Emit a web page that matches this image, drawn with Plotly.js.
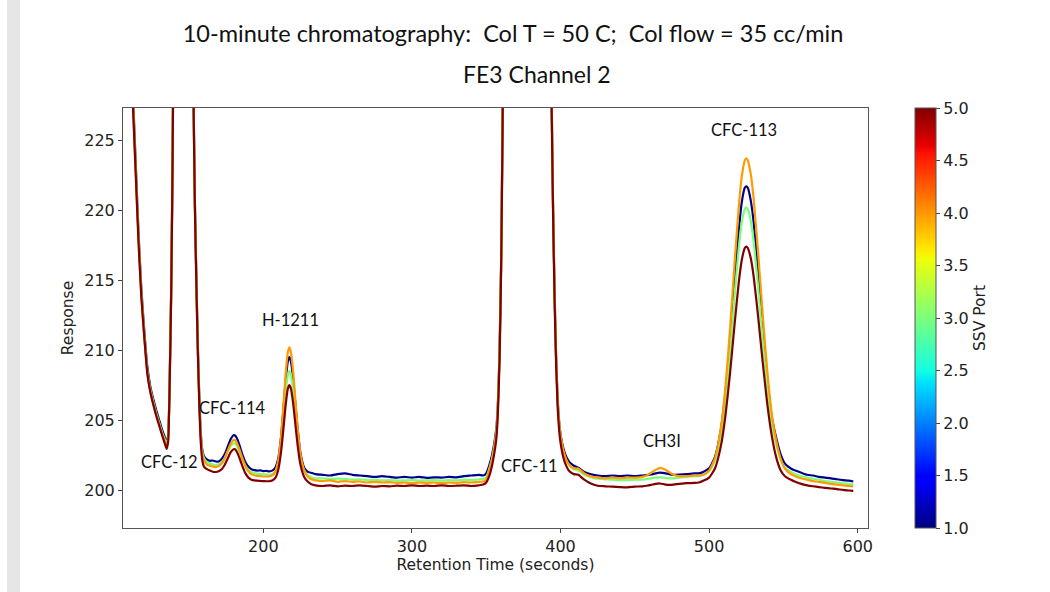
<!DOCTYPE html>
<html>
<head>
<meta charset="utf-8">
<script src="https://cdn.plot.ly/plotly-3.0.1.min.js"></script>
<style>html,body{margin:0;padding:0;background:#fff;}#chart{width:1050px;height:592px;}</style>
</head>
<body>
<div id="chart"></div>
<script>
// ---------------- DATA ----------------
const retentionTime = [
  100,105,108,110,112,114,116,118,120,122,124,126,128,130,132,134,135,136,137,138,139,140,142,146,150,152,153,154,155,156,157,158,159,160,162,
  164,166,168,170,172,174,176,178,180,181,182,184,186,188,190,192,194,196,198,200,202,204,
  206,208,210,212,213.5,215,216.5,217.5,218.5,220,221.5,223,225,227.5,230,
  232,235,240,245,250,255,260,265,270,275,280,285,290,295,300,305,310,315,320,325,330,335,340,345,348,350,
  352,354,356,357,358,359,360,361,362,365,370,377,385,390,393,394,395,396,397,398,399,400,402,404,406,409,
  412,416,420,425,430,435,440,445,450,455,458,461,464,467,470,473,476,480,485,490,493,
  496,500,504,508,511,514,517,520,522,524,525,526,528,530,533,536,539,542,545,548,551,555,
  558,562,566,570,574,578,582,586,590,594,597
];

const ssvPorts = [1, 3, 4, 5];

const responsePort1 = [
  292,256,241,234,229,223.8,218.5,214.3,211.3,208.8,207.4,206.5,205.7,205.0,204.3,203.7,203.4,203.9,207.9,214.2,224,240,300,420,330,255,229,220.5,215,210.2,206.5,204.0,202.85,202.45,202.2,
  202.1,202.12,202.05,202.05,202.23,202.56,203.09,203.64,203.93,203.91,203.76,203.21,202.53,202.0,201.67,201.5,201.43,201.4,201.42,201.36,201.38,201.35,
  201.4,201.6,202.23,203.85,205.72,207.75,209.19,209.5,209.25,208.05,206.28,204.49,202.66,201.61,201.31,
  201.25,201.15,201.1,201.05,201.15,201.2,201.1,201.05,201.0,200.95,201.0,200.95,200.9,200.95,200.9,200.95,200.88,200.92,200.9,200.95,200.92,201.0,201.05,201.1,201.05,201.2,
  201.75,202.55,203.75,204.65,206.6,210.1,216.1,226.2,240,300,500,700,550,320,240,228.2,220.2,214.2,209.7,206.7,205.0,204.0,202.95,202.35,202.0,201.75,
  201.6,201.3,201.15,201.05,201.0,201.05,201.0,201.05,201.0,201.05,201.08,201.12,201.2,201.25,201.22,201.15,201.1,201.12,201.15,201.2,201.2,
  201.3,201.56,202.4,204.4,207.0,210.6,214.8,218.6,220.6,221.6,221.7,221.6,220.7,219.1,215.6,211.7,208.1,205.3,203.8,202.6,201.9,201.55,
  201.4,201.25,201.1,201.05,200.95,200.9,200.85,200.78,200.72,200.68,200.62
];

const responsePort3 = [
  291,255.5,240.5,233.5,228.6,223.4,218.2,214.0,211.0,208.5,207.2,206.3,205.5,204.8,204.1,203.55,203.3,203.8,207.8,214.1,224,240,300,420,330,255,228.8,220.3,214.8,210.0,206.3,203.8,202.7,202.3,202.0,
  201.9,201.85,201.8,201.85,202.0,202.3,202.75,203.15,203.35,203.33,203.2,202.75,202.2,201.75,201.45,201.3,201.22,201.18,201.15,201.13,201.12,201.1,
  201.14,201.33,201.94,203.4,205.09,206.92,208.22,208.5,208.27,207.19,205.59,203.98,202.37,201.43,201.06,
  200.95,200.85,200.85,200.8,200.82,200.8,200.75,200.78,200.72,200.75,200.7,200.72,200.68,200.7,200.72,200.68,200.7,200.72,200.68,200.72,200.7,200.75,200.72,200.78,200.8,200.9,
  201.5,202.3,203.5,204.4,206.4,209.9,215.9,226,240,300,500,700,550,320,240,228,220,214,209.5,206.5,204.8,203.8,202.7,202.1,201.75,201.5,
  201.4,201.1,200.95,200.82,200.78,200.75,200.72,200.72,200.75,200.75,200.8,200.85,200.9,200.92,200.88,200.85,200.85,200.9,200.95,201.0,201.0,
  201.08,201.34,202.11,203.98,206.41,209.79,213.71,217.34,219.12,220.08,220.2,220.08,219.26,217.72,214.46,210.83,207.49,204.88,203.3,202.2,201.6,201.3,
  201.15,201.0,200.9,200.82,200.75,200.65,200.6,200.55,200.5,200.45,200.42
];

const responsePort4 = [
  291,255.5,240.5,233.5,228.5,223.3,218.1,213.9,210.9,208.4,207.1,206.2,205.4,204.7,204.0,203.45,203.2,203.7,207.7,214,224,240,300,420,330,255,228.7,220.2,214.7,209.9,206.2,203.7,202.6,202.15,201.85,
  201.75,201.7,201.65,201.72,201.9,202.25,202.8,203.3,203.58,203.57,203.42,202.9,202.25,201.7,201.35,201.15,201.07,201.02,201.0,200.98,200.98,200.98,
  201.06,201.29,202.05,203.86,205.96,208.23,209.85,210.2,209.91,208.57,206.58,204.58,202.58,201.4,200.97,
  200.8,200.7,200.65,200.7,200.6,200.65,200.6,200.62,200.55,200.6,200.55,200.58,200.52,200.55,200.5,200.55,200.52,200.55,200.5,200.55,200.52,200.58,200.55,200.6,200.62,200.75,
  201.4,202.2,203.4,204.3,206.3,209.8,215.8,225.9,240,300,500,700,550,320,240,228.1,220.1,214.1,209.6,206.6,204.9,203.9,202.8,202.15,201.8,201.55,
  201.55,201.2,201.0,200.9,200.85,200.9,200.85,200.9,200.9,200.95,201.05,201.25,201.45,201.6,201.5,201.3,201.1,201.0,201.0,201.05,201.05,
  201.1,201.4,202.32,204.52,207.4,211.4,216.03,220.32,222.43,223.56,223.7,223.56,222.59,220.77,216.91,212.62,208.67,205.59,203.6,202.3,201.55,201.15,
  201.0,200.85,200.75,200.65,200.6,200.52,200.45,200.4,200.35,200.3,200.28
];

const responsePort5 = [
  290,255,240,233,228.2,223,217.8,213.7,210.8,208.3,207.0,206.1,205.3,204.6,203.9,203.25,202.95,203.5,207.5,213.8,223.8,240,300,420,330,255,228.5,220.0,214.5,209.6,205.9,203.3,202.1,201.7,201.5,
  201.4,201.32,201.3,201.35,201.5,201.8,202.25,202.7,202.93,202.92,202.78,202.3,201.7,201.2,200.9,200.75,200.7,200.68,200.66,200.65,200.64,200.64,
  200.69,200.86,201.43,202.78,204.34,206.03,207.24,207.5,207.29,206.29,204.81,203.31,201.83,200.95,200.6,
  200.45,200.35,200.3,200.35,200.28,200.32,200.3,200.35,200.3,200.25,200.3,200.28,200.32,200.3,200.35,200.3,200.33,200.3,200.35,200.3,200.32,200.35,200.3,200.35,200.4,200.55,
  201.0,201.8,203.0,203.9,205.9,209.4,215.5,225.6,240,300,500,700,550,320,240,227.6,219.6,213.6,209.1,206.1,204.4,203.4,202.3,201.7,201.35,201.15,
  201.1,200.75,200.5,200.32,200.28,200.25,200.22,200.2,200.25,200.28,200.32,200.38,200.45,200.48,200.42,200.38,200.4,200.45,200.5,200.52,200.55,
  200.67,200.9,201.57,203.2,205.34,208.29,211.72,214.9,216.46,217.3,217.4,217.3,216.58,215.23,212.38,209.2,206.28,203.99,202.4,201.45,201.0,200.75,
  200.6,200.45,200.35,200.28,200.22,200.17,200.12,200.08,200.02,199.98,199.95
];

const peakNames = ["CFC-12", "CFC-114", "H-1211", "CFC-11", "CH3I", "CFC-113"];

const colorbarTicks = [1.0, 1.5, 2.0, 2.5, 3.0, 3.5, 4.0, 4.5, 5.0];

// ---------------- STYLE ----------------
const jetScale = [
  [0.0, '#000080'], [0.11, '#0000ff'], [0.125, '#0000ff'], [0.34, '#00dbff'],
  [0.35, '#00e5f7'], [0.375, '#14ffe2'], [0.64, '#eeff08'], [0.65, '#f7f500'],
  [0.66, '#ffec00'], [0.89, '#ff1300'], [0.91, '#e80000'], [1.0, '#800000']
];
const portColors = { 1: '#00008a', 3: '#7bff7b', 4: '#ff9a00', 5: '#800000' };
const labelPos = [
  [137.2, 202.0], [179.6, 205.87], [218.0, 212.16], [378.8, 201.73], [468.3, 203.51], [523.5, 225.73]
];
const tickFont = { family: 'DejaVu Sans', size: 16, color: '#222' };
const labelFont = { family: 'Lato', size: 16.5, color: '#111' };

const seriesByPort = { 1: responsePort1, 3: responsePort3, 4: responsePort4, 5: responsePort5 };

const traces = ssvPorts.map(p => ({
  type: 'scatter', mode: 'lines',
  x: retentionTime, y: seriesByPort[p],
  name: 'SSV Port ' + p,
  line: { color: portColors[p], width: 2.2, shape: 'spline', smoothing: 0.5 },
  showlegend: false, hoverinfo: 'x+y+name'
}));

// colorbar carrier (invisible markers, outside the axis range)
traces.push({
  type: 'scatter', mode: 'markers', x: [0, 0], y: [0, 0],
  hoverinfo: 'skip', showlegend: false,
  marker: {
    color: [ssvPorts[0], ssvPorts[ssvPorts.length - 1]], cmin: 1, cmax: 5,
    colorscale: jetScale, opacity: 0, size: 1, showscale: true,
    colorbar: {
      x: 1.063, xanchor: 'left', y: 0.5, yanchor: 'middle',
      len: 1, lenmode: 'fraction', thickness: 21, thicknessmode: 'pixels',
      xpad: 0, ypad: 0, outlinewidth: 1, outlinecolor: '#555',
      tickmode: 'array', tickvals: colorbarTicks,
      ticktext: colorbarTicks.map(v => v.toFixed(1)),
      ticks: 'outside', ticklen: 4, tickcolor: '#444', tickfont: tickFont,
      title: { text: 'SSV Port', side: 'right', font: { family: 'DejaVu Sans', size: 15.5, color: '#222' } }
    }
  }
});

const annotations = peakNames.map((n, i) => ({
  x: labelPos[i][0], y: labelPos[i][1], xref: 'x', yref: 'y',
  text: n, showarrow: false, font: labelFont, xanchor: 'center', yanchor: 'middle'
}));
annotations.push({
  x: 0.556, y: 1.081, xref: 'paper', yref: 'paper', text: 'FE3 Channel 2',
  showarrow: false, font: { family: 'Lato', size: 23, color: '#111' }, xanchor: 'center', yanchor: 'middle'
});

const layout = {
  width: 1050, height: 592,
  margin: { l: 123, r: 182, t: 108, b: 64 },
  paper_bgcolor: '#fff', plot_bgcolor: '#fff',
  title: {
    text: '10-minute chromatography:\u00a0\u00a0Col T = 50 C;\u00a0\u00a0Col flow = 35 cc/min',
    x: 513 / 1050, xref: 'container', xanchor: 'center',
    y: 1 - 34 / 592, yref: 'container', yanchor: 'middle',
    font: { family: 'Lato', size: 23.5, color: '#111' }
  },
  xaxis: {
    range: [105.6, 606.9], tickmode: 'linear', tick0: 0, dtick: 100,
    showgrid: false, zeroline: false, showline: true, mirror: true,
    linecolor: '#555', linewidth: 1, ticks: 'outside', ticklen: 4, tickcolor: '#444',
    tickfont: tickFont,
    title: { text: 'Retention Time (seconds)', font: { family: 'DejaVu Sans', size: 15.5, color: '#222' }, standoff: 3 }
  },
  yaxis: {
    range: [197.3, 227.3], tickmode: 'linear', tick0: 0, dtick: 5,
    showgrid: false, zeroline: false, showline: true, mirror: true,
    linecolor: '#555', linewidth: 1, ticks: 'outside', ticklen: 4, tickcolor: '#444',
    tickfont: tickFont,
    title: { text: 'Response', font: { family: 'DejaVu Sans', size: 15.5, color: '#222' }, standoff: 6 }
  },
  annotations: annotations,
  shapes: [{
    type: 'rect', xref: 'paper', yref: 'paper',
    x0: (7 - 123) / 745, x1: (20 - 123) / 745, y0: -64 / 420, y1: 1 + 108 / 420,
    fillcolor: '#e6e6e6', line: { width: 0 }, layer: 'below'
  }]
};

Plotly.newPlot('chart', traces, layout, { displayModeBar: false, responsive: false });
</script>
</body>
</html>
